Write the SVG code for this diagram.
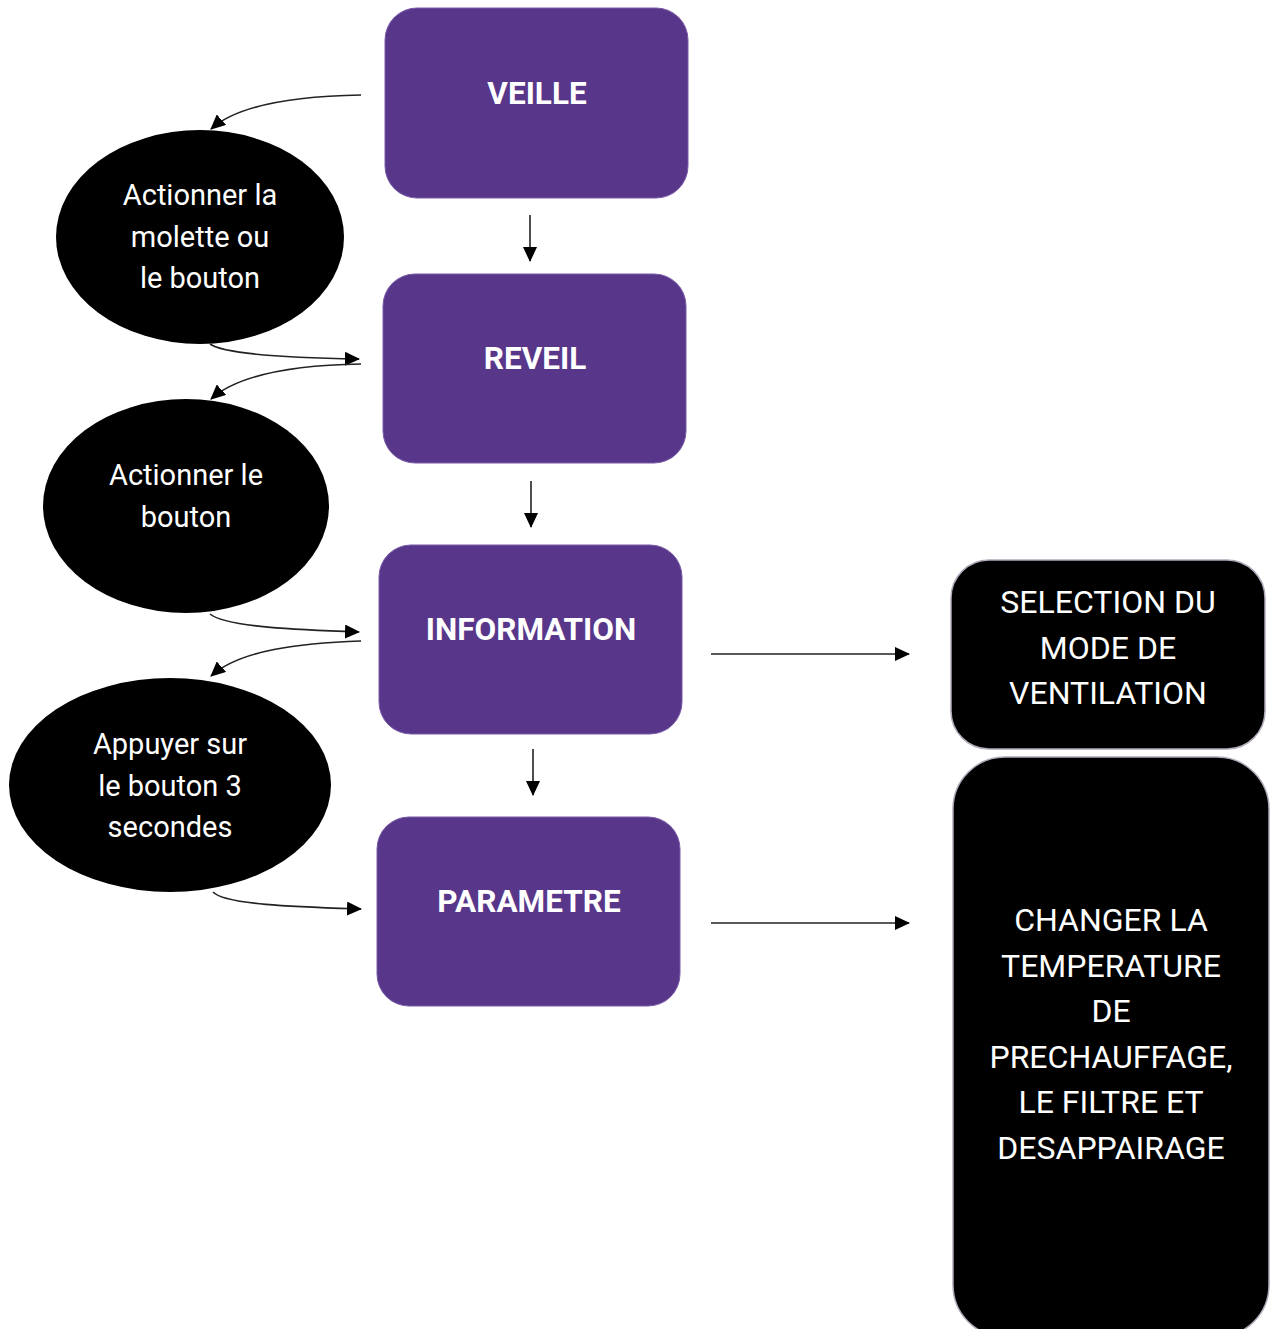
<svg xmlns="http://www.w3.org/2000/svg" width="1278" height="1329" viewBox="0 0 1278 1329">
<style>
.p{fill:#58378b;stroke:#7a5aa8;stroke-width:1}
.b{fill:#000;stroke:#b0a8b8;stroke-width:1.5}
.e{fill:#000}
.tp{font-family:Roboto,"Liberation Sans",sans-serif;font-weight:bold;font-size:31.5px;fill:#fff;text-anchor:middle}
.te{font-family:Roboto,"Liberation Sans",sans-serif;font-size:29px;fill:#fff;text-anchor:middle}
.tb{font-family:Roboto,"Liberation Sans",sans-serif;font-size:32px;fill:#fff;text-anchor:middle}
.c{fill:none;stroke:#222;stroke-width:1.6;marker-end:url(#ah)}
</style>
<defs>
<marker id="ah" markerWidth="15" markerHeight="14" refX="14" refY="7" orient="auto" markerUnits="userSpaceOnUse">
<path d="M0,0 L15,7 L0,14 Z" fill="#000"/>
</marker>
</defs>
<g id="connectors">
<path class="c" d="M530,215 L530,261"/>
<path class="c" d="M531,481 L531,527"/>
<path class="c" d="M533,749 L533,795"/>
<path class="c" d="M711,654 L909,654"/>
<path class="c" d="M711,923 L909,923"/>
<path class="c" d="M361,95 C300,96 240,103 211,129"/>
<path class="c" d="M210,344 C225,355 300,358 359,359"/>
<path class="c" d="M361,364 C300,365 240,373 211,399"/>
<path class="c" d="M210,614 C225,627 300,630 359,632"/>
<path class="c" d="M361,641 C300,643 240,650 211,676"/>
<path class="c" d="M213,892 C225,905 300,907 361,909"/>
</g>
<g id="veille"><rect class="p" x="385" y="8" width="303" height="190" rx="32"/><text class="tp" x="537" y="104">VEILLE</text></g>
<g id="reveil"><rect class="p" x="383" y="274" width="303" height="189" rx="32"/><text class="tp" x="535" y="369">REVEIL</text></g>
<g id="information"><rect class="p" x="379" y="545" width="303" height="189" rx="32"/><text class="tp" x="531" y="640">INFORMATION</text></g>
<g id="parametre"><rect class="p" x="377" y="817" width="303" height="189" rx="32"/><text class="tp" x="529" y="912">PARAMETRE</text></g>
<g id="action1"><ellipse class="e" cx="200" cy="237" rx="144" ry="107"/><text class="te" x="200" y="205">Actionner la</text><text class="te" x="200" y="247">molette ou</text><text class="te" x="200" y="288">le bouton</text></g>
<g id="action2"><ellipse class="e" cx="186" cy="506" rx="143" ry="107"/><text class="te" x="186" y="485">Actionner le</text><text class="te" x="186" y="527">bouton</text></g>
<g id="action3"><ellipse class="e" cx="170" cy="785" rx="161" ry="107"/><text class="te" x="170" y="754">Appuyer sur</text><text class="te" x="170" y="796">le bouton 3</text><text class="te" x="170" y="837">secondes</text></g>
<g id="selection"><rect class="b" x="951" y="560" width="314" height="189" rx="38"/><text class="tb" x="1108" y="613">SELECTION DU</text><text class="tb" x="1108" y="659">MODE DE</text><text class="tb" x="1108" y="704">VENTILATION</text></g>
<g id="changer"><rect class="b" x="953" y="757" width="316" height="580" rx="52"/><text class="tb" x="1111" y="931">CHANGER LA</text><text class="tb" x="1111" y="977">TEMPERATURE</text><text class="tb" x="1111" y="1022">DE</text><text class="tb" x="1111" y="1068">PRECHAUFFAGE,</text><text class="tb" x="1111" y="1113">LE FILTRE ET</text><text class="tb" x="1111" y="1159">DESAPPAIRAGE</text></g>
</svg>
